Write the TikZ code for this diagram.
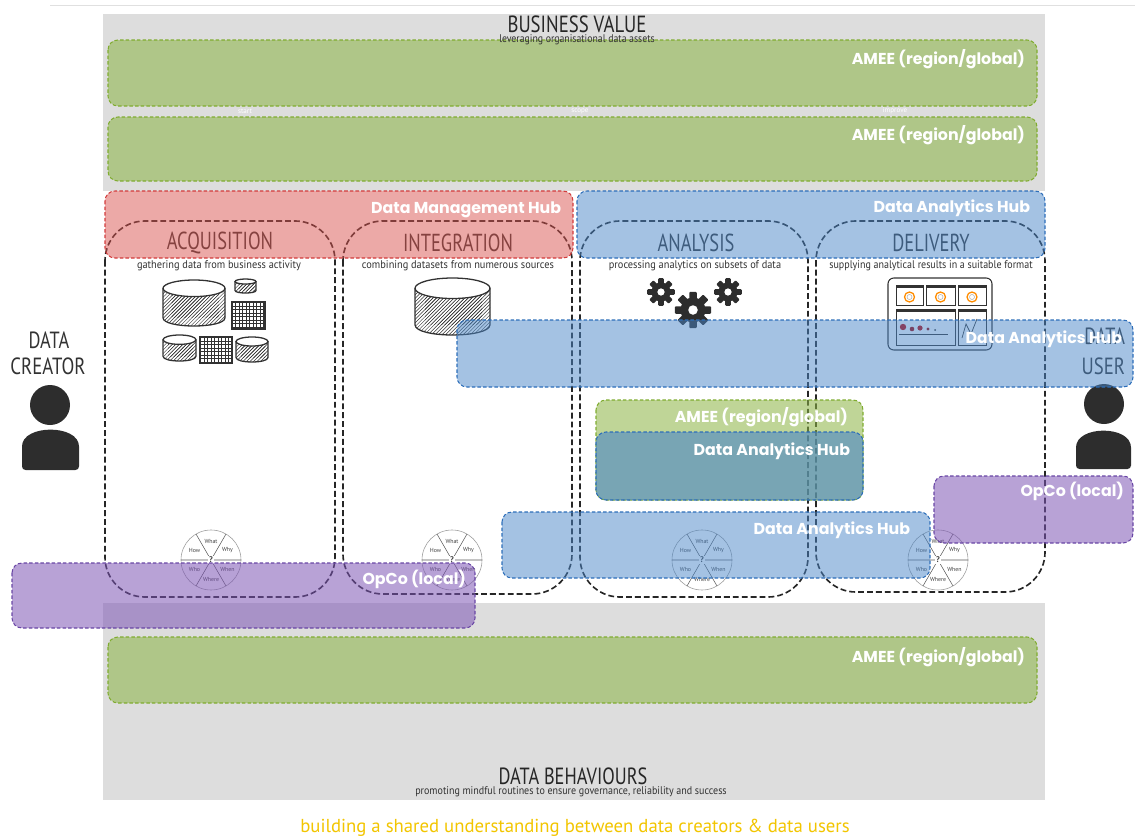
\documentclass[tikz,border=0pt]{standalone}
\usepackage{fontspec}
\usepackage{graphicx}
\usetikzlibrary{patterns}

\newfontfamily\hubfont{Poppins}
\newfontfamily\handfont{PT Sans}

\definecolor{bggray}{RGB}{221,221,221}
\definecolor{amee}{RGB}{140,180,70}
\definecolor{ameeline}{RGB}{128,172,48}
\definecolor{dmh}{RGB}{217,83,79}
\definecolor{dmhline}{RGB}{210,60,60}
\definecolor{dah}{RGB}{74,134,200}
\definecolor{dahline}{RGB}{45,110,185}
\definecolor{opco}{RGB}{125,85,181}
\definecolor{opcoline}{RGB}{105,70,165}
\definecolor{ink}{RGB}{50,50,50}
\definecolor{person}{RGB}{45,45,45}
\definecolor{motto}{RGB}{242,197,0}

% horizontally condensed text
\newcommand{\hw}[2][0.75]{\scalebox{#1}[1]{#2}}

% hatched storage drum: x, y (top left), width, height
\newcommand{\drum}[4]{%
  \pgfmathsetmacro\drumE{0.18*#4}%
  \fill[pattern=north east lines, pattern color=ink]
    (#1,#2+\drumE) -- (#1,#2+#4-\drumE)
    .. controls (#1,#2+#4+\drumE/3) and (#1+#3,#2+#4+\drumE/3) .. (#1+#3,#2+#4-\drumE)
    -- (#1+#3,#2+\drumE) -- cycle;
  \fill[pattern=north east lines, pattern color=ink, shift={(1.2,0)}]
    (#1+#3*0.12,#2+\drumE*1.6) -- (#1+#3*0.12,#2+#4-\drumE)
    -- (#1+#3*0.88,#2+#4-\drumE) -- (#1+#3*0.88,#2+\drumE*1.6) -- cycle;
  \draw[ink, line width=1.1pt, line join=round]
    (#1,#2+\drumE) -- (#1,#2+#4-\drumE)
    .. controls (#1,#2+#4+\drumE/3) and (#1+#3,#2+#4+\drumE/3) .. (#1+#3,#2+#4-\drumE)
    -- (#1+#3,#2+\drumE);
  \draw[ink, line width=1.1pt, fill=white] (#1+#3/2,#2+\drumE) ellipse [x radius=#3/2, y radius=\drumE];
}

% grid tile: x, y, width, height
\newcommand{\tile}[4]{%
  \fill[pattern=grid, pattern color=ink] (#1,#2) rectangle (#1+#3,#2+#4);
  \draw[ink, line width=0.9pt] (#1,#2) rectangle (#1+#3,#2+#4);
}

% cog wheel: cx, cy, core radius
\newcommand{\cog}[3]{%
  \foreach \ang in {0,45,90,135}
    \fill[person, rotate around={\ang:(#1,#2)}, rounded corners=0.8pt]
      (#1-0.3*#3,#2-1.45*#3) rectangle (#1+0.3*#3,#2+1.45*#3);
  \fill[person] (#1,#2) circle (#3);
  \fill[white] (#1,#2) circle (0.38*#3);
}

% question wheel: name, cx, cy
\newcommand{\qwheel}[3]{%
  \draw[gray!75, line width=0.5pt, fill=white] (#2,#3) circle (30);
  \draw[black!65, line width=0.45pt] (#2-30,#3) -- (#2+30,#3)
    (#2+15,#3-26) -- (#2-15,#3+26) (#2-15,#3-26) -- (#2+15,#3+26);
  \node[wlabel] (#1what)  at (#2,#3-19) {What};
  \node[wlabel] (#1why)   at (#2+16.5,#3-9.5) {Why};
  \node[wlabel] (#1when)  at (#2+16.5,#3+9.5) {When};
  \node[wlabel] (#1where) at (#2,#3+19) {Where};
  \node[wlabel] (#1who)   at (#2-16.5,#3+9.5) {Who};
  \node[wlabel] (#1how)   at (#2-16.5,#3-9.5) {How};
  \node[wlabel, fill=white, inner sep=0.6pt, font=\handfont\bfseries\fontsize{7}{7}\selectfont] (#1q) at (#2,#3) {?};
}

\begin{document}
\begin{tikzpicture}[x=0.03cm,y=-0.03cm,
  every node/.style={inner sep=0pt, outer sep=0pt},
  frame/.style={rounded corners=8.5pt, line width=0.9pt, dash pattern=on 3pt off 1.8pt},
  ameebox/.style={frame, draw=ameeline, fill=amee, fill opacity=0.56},
  dmhbox/.style={frame, draw=dmhline, fill=dmh, fill opacity=0.5},
  dahbox/.style={frame, draw=dahline, fill=dah, fill opacity=0.5},
  opcobox/.style={frame, draw=opcoline, fill=opco, fill opacity=0.55},
  stage/.style={draw=black!85, line width=1.4pt, dash pattern=on 5pt off 2.6pt, rounded corners=34pt},
  hublabel/.style={anchor=east, text=white, font=\hubfont\bfseries\fontsize{13.5}{15}\selectfont},
  stagetitle/.style={text=ink, font=\handfont\fontsize{21}{22}\selectfont},
  stagesub/.style={text=ink, font=\handfont\fontsize{9.5}{10}\selectfont},
  bigtitle/.style={text=black!85, font=\handfont\fontsize{20}{21}\selectfont},
  role/.style={text=ink, font=\handfont\fontsize{20}{21}\selectfont},
  phase/.style={text=white, font=\handfont\fontsize{6}{7}\selectfont},
  wlabel/.style={text=black!75, font=\handfont\fontsize{5}{6}\selectfont}
]
\useasboundingbox (0,0) rectangle (1135,840);

% frame line and grey layers
\draw[black!12, line width=0.8pt] (50,5) -- (1135,5);
\fill[bggray] (103,14) rectangle (1045,191);
\fill[bggray] (103,603) rectangle (1045,800);

% business value layers
\path[ameebox] (108,40) rectangle (1037,106);
\path[ameebox] (108,117) rectangle (1037,181);
\node[phase] (start) at (245,111) {start};
\node[phase] (scope) at (580,111) {scope};
\node[phase] (improve) at (895,111) {improve};

% lifecycle stages
\draw[stage] (105,221) rectangle (335,597);
\draw[stage] (343,221) rectangle (572,594);
\draw[stage] (580,221) rectangle (808,597);
\draw[stage] (816,221) rectangle (1045,592);

\node[stagetitle] (acq) at (220,243) {\hw{ACQUISITION}};
\node[stagetitle] (int) at (458,243) {\hw{INTEGRATION}};
\node[stagetitle] (ana) at (696,243) {\hw{ANALYSIS}};
\node[stagetitle] (del) at (931,243) {\hw{DELIVERY}};

\node[stagesub] (acqsub) at (219,266) {\hw[0.93]{gathering data from business activity}};
\node[stagesub] (intsub) at (458,266) {\hw[0.93]{combining datasets from numerous sources}};
\node[stagesub] (anasub) at (695,266) {\hw[0.93]{processing analytics on subsets of data}};
\node[stagesub] (delsub) at (931,266) {\hw[0.9]{supplying analytical results in a suitable format}};

% acquisition icon
\drum{163}{280}{62}{46}
\drum{235}{279}{21}{14}
\tile{232}{302}{33}{27}
\drum{163}{335}{33}{26}
\tile{200}{337}{32}{26}
\drum{236}{337}{32}{25}

% integration icon
\drum{415}{278}{75}{57}

% analysis icon
\cog{661}{292}{9.5}
\cog{693}{310}{12.5}
\cog{728}{292}{9.5}

% delivery icon
\draw[ink, line width=0.9pt, rounded corners=5pt] (888,278) rectangle (992,350);
\foreach \xa/\xb in {896/923, 926/955, 958/986} {
  \draw[ink, line width=0.5pt] (\xa,285) rectangle (\xb,305);
  \fill[ink] (\xa,285) rectangle (\xb,288);
  \draw[orange!90!yellow, line width=1.1pt] ({(\xa+\xb)/2},297) circle (5);
  \draw[gray!60, line width=0.5pt] ({(\xa+\xb)/2},297) circle (2.5);
}
\draw[ink, line width=0.5pt] (896,309) rectangle (955,345);
\fill[ink] (896,309) rectangle (955,312);
\draw[ink, line width=0.5pt] (958,309) rectangle (986,345);
\fill[ink] (958,309) rectangle (986,312);
\fill[red!75!black] (903,327) circle (3.2);
\fill[red!65!black] (912,329) circle (2.3);
\fill[red!75!black] (920,328) circle (2.6);
\fill[red!60!black] (928,329) circle (1.6);
\fill[ink] (935,330) circle (1);
\draw[ink, line width=0.4pt] (899,334) -- (948,334);
\draw[ink, line width=0.6pt] (962,338) -- (966,324) -- (971,334) -- (977,319);

% question wheels
\qwheel{wa}{211}{560}
\qwheel{wb}{452}{560}
\qwheel{wc}{702}{560}
\qwheel{wd}{938}{560}

% data creator
\node[role] (creator1) at (49,340) {\hw[0.78]{DATA}};
\node[role] (creator2) at (48,366) {\hw[0.8]{CREATOR}};
\fill[person] (50,405) circle (20);
\fill[person, rounded corners=3pt] (22,470) -- (22,450) .. controls (22,424) and (79,424) .. (79,450) -- (79,470) -- cycle;

% data user
\node[role, anchor=east] (user1) at (1125,336) {\hw[0.78]{DATA}};
\node[role, anchor=east] (user2) at (1125,366) {\hw[0.8]{USER}};
\fill[person] (1104,404) circle (20);
\fill[person, rounded corners=3pt] (1076,469) -- (1076,451) .. controls (1076,425) and (1131,425) .. (1131,451) -- (1131,469) -- cycle;

% organisational hubs
\path[dmhbox] (105,191) rectangle (573,258);
\path[dahbox] (577,191) rectangle (1045,258);
\path[dahbox] (457,320) rectangle (1133,387);
\path[ameebox] (596,400) rectangle (863,500);
\path[dahbox, fill opacity=0.6] (596,432) rectangle (863,500);
\path[dahbox] (502,512) rectangle (930,578);
\path[opcobox] (934,476) rectangle (1133,543);
\path[opcobox] (12,563) rectangle (475,628);
\path[ameebox] (108,637) rectangle (1037,703);

% hub labels
\node[hublabel] (amee1) at (1025,59) {AMEE (region/global)};
\node[hublabel] (amee2) at (1025,135) {AMEE (region/global)};
\node[hublabel] (dmhlab) at (561,210) {Data Management Hub};
\node[hublabel] (dahlab1) at (1030,208) {Data Analytics Hub};
\node[hublabel] (dahlab2) at (1122,339) {Data Analytics Hub};
\node[hublabel] (amee3) at (848,417) {AMEE (region/global)};
\node[hublabel] (dahlab3) at (850,451) {Data Analytics Hub};
\node[hublabel] (dahlab4) at (910,530) {Data Analytics Hub};
\node[hublabel] (opco1) at (1124,491) {OpCo (local)};
\node[hublabel] (opco2) at (466,579) {OpCo (local)};
\node[hublabel] (amee4) at (1025,657) {AMEE (region/global)};

% layer titles
\node[bigtitle] (bv) at (577,24) {\hw[0.8]{BUSINESS VALUE}};
\node[stagesub, font=\handfont\fontsize{9.5}{10}\selectfont] (bvsub) at (577,40) {\hw[0.88]{leveraging organisational data assets}};
\node[bigtitle] (db) at (573,776) {\hw[0.78]{DATA BEHAVIOURS}};
\node[stagesub, font=\handfont\fontsize{9.5}{10}\selectfont] (dbsub) at (571,792) {\hw[0.9]{promoting mindful routines to ensure governance, reliability and success}};

\node[text=motto, font=\handfont\fontsize{16}{18}\selectfont] (motto) at (575,828) {building a shared understanding between data creators \& data users};
\end{tikzpicture}
\end{document}
